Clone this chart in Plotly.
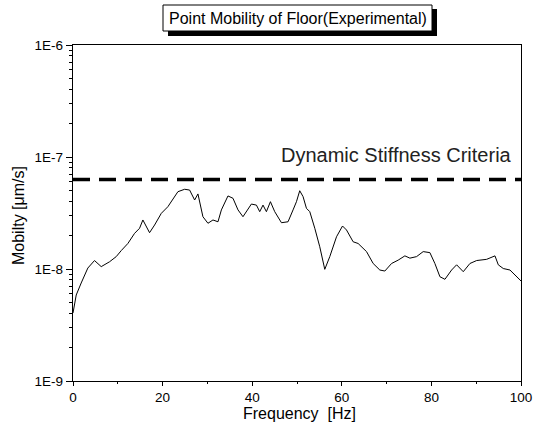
import plotly.graph_objects as go

freq = [0.0, 0.72, 1.83, 3.31, 4.80, 6.30, 8.16, 9.65, 10.77, 12.25, 13.74, 14.86, 15.60, 17.09,
        18.21, 19.71, 21.18, 23.42, 24.92, 26.03, 27.15, 27.89, 29.0, 30.12, 31.24, 32.36,
        33.12, 34.59, 35.71, 36.47, 36.83, 37.94, 39.06, 39.82, 40.94, 41.68, 42.41, 43.17,
        44.07, 45.03, 46.53, 48.0, 49.12, 49.88, 50.61, 51.35, 52.11, 52.85, 53.97, 55.08,
        56.20, 57.32, 58.82, 60.16, 61.05, 62.53, 63.64, 65.52, 67.0, 68.49, 69.61, 71.11,
        72.58, 74.08, 75.20, 76.69, 78.17, 79.66, 80.78, 81.90, 83.02, 84.51, 85.63, 87.11,
        88.60, 90.10, 92.33, 94.19, 94.93, 96.04, 97.54, 100.0]
mobility = [4.05e-9, 5.86e-9, 7.50e-9, 1.02e-8, 1.19e-8, 1.05e-8, 1.16e-8, 1.29e-8, 1.46e-8,
            1.69e-8, 2.08e-8, 2.31e-8, 2.74e-8, 2.11e-8, 2.47e-8, 3.14e-8, 3.60e-8, 4.90e-8,
            5.15e-8, 5.07e-8, 4.13e-8, 4.68e-8, 2.93e-8, 2.56e-8, 2.74e-8, 2.64e-8,
            3.37e-8, 4.49e-8, 4.28e-8, 3.72e-8, 3.37e-8, 2.93e-8, 3.37e-8, 3.80e-8, 3.72e-8,
            3.25e-8, 3.72e-8, 3.25e-8, 3.99e-8, 3.25e-8, 2.59e-8, 2.64e-8, 3.37e-8, 3.99e-8,
            5.00e-8, 4.43e-8, 3.48e-8, 3.25e-8, 2.31e-8, 1.58e-8, 9.93e-9, 1.29e-8, 1.94e-8,
            2.42e-8, 2.23e-8, 1.75e-8, 1.69e-8, 1.43e-8, 1.12e-8, 9.79e-9, 9.59e-9, 1.12e-8,
            1.20e-8, 1.31e-8, 1.25e-8, 1.29e-8, 1.43e-8, 1.40e-8, 1.12e-8, 8.53e-9, 8.09e-9,
            9.79e-9, 1.09e-8, 9.46e-9, 1.12e-8, 1.19e-8, 1.22e-8, 1.31e-8, 1.09e-8, 1.01e-8,
            9.79e-9, 7.82e-9]
criteria_freq = [0, 100]
criteria_value = [6.3e-8, 6.3e-8]

y_tickvals = [1e-9, 1e-8, 1e-7, 1e-6]
y_ticktext = ["1E-9", "1E-8", "1E-7", "1E-6"]
x_tickvals = [0, 20, 40, 60, 80, 100]

title_text = "Point Mobility of Floor(Experimental)"
criteria_label = "Dynamic Stiffness Criteria"
x_title = "Frequency  [Hz]"
y_title = "Mobilty [μm/s]"

W, H = 535, 433
PLOT_L, PLOT_R, PLOT_T, PLOT_B = 73, 521, 45, 381   # window pixels
L, R, T, B = PLOT_L, W - PLOT_R, PLOT_T, H - PLOT_B
pw, ph = PLOT_R - PLOT_L, PLOT_B - PLOT_T

def px(x):
    return (x - PLOT_L) / pw

def py(y):
    return (PLOT_B - y) / ph

font = "Liberation Sans, Arial, sans-serif"

fig = go.Figure()
fig.add_trace(go.Scatter(x=freq, y=mobility, mode="lines",
                         line=dict(color="black", width=1), showlegend=False))
fig.add_trace(go.Scatter(x=criteria_freq, y=criteria_value, mode="lines",
                         line=dict(color="black", width=3.5, dash="17px,9px"), showlegend=False))

minor_y = [k * 10.0 ** e for e in (-9, -8, -7) for k in range(2, 10)]

fig.update_xaxes(range=[0, 100], tickvals=x_tickvals, ticks="outside", ticklen=4,
                 tickwidth=1, tickcolor="black", showline=True, linecolor="black",
                 linewidth=1.3, mirror=True, showgrid=False, zeroline=False, automargin=False,
                 minor=dict(tickvals=[10, 30, 50, 70, 90], ticks="outside", ticklen=2,
                            tickcolor="black", showgrid=False),
                 tickfont=dict(family=font, size=13.5, color="black"))
fig.update_yaxes(type="log", range=[-9, -6], tickvals=y_tickvals, ticktext=y_ticktext,
                 ticks="outside", ticklen=6, tickwidth=1, tickcolor="black",
                 showline=True, linecolor="black", linewidth=1.3, mirror=True,
                 showgrid=False, zeroline=False, automargin=False,
                 minor=dict(tickvals=minor_y, ticks="outside", ticklen=3,
                            tickcolor="black", showgrid=False),
                 tickfont=dict(family=font, size=13.5, color="black"))

shapes = [
    dict(type="rect", xref="paper", yref="paper", x0=px(168), x1=px(437), y0=py(36), y1=py(9),
         fillcolor="black", line=dict(width=0), layer="above"),
    dict(type="rect", xref="paper", yref="paper", x0=px(163), x1=px(432), y0=py(31), y1=py(5),
         fillcolor="white", line=dict(color="black", width=1), layer="above"),
]
annotations = [
    dict(text=title_text, xref="paper", yref="paper", x=px(298), y=py(18), showarrow=False,
         xanchor="center", yanchor="middle", font=dict(family=font, size=16, color="black")),
    dict(text=criteria_label, xref="paper", yref="paper", x=px(514), y=py(155), showarrow=False,
         xanchor="right", yanchor="middle", font=dict(family=font, size=20, color="#222")),
    dict(text=x_title, xref="paper", yref="paper", x=px(299), y=py(413), showarrow=False,
         xanchor="center", yanchor="middle", font=dict(family=font, size=16, color="black")),
    dict(text=y_title, xref="paper", yref="paper", x=px(18), y=py(216), showarrow=False,
         textangle=-90, xanchor="center", yanchor="middle",
         font=dict(family=font, size=16, color="black")),
]

fig.update_layout(width=W, height=H, margin=dict(l=L, r=R, t=T, b=B),
                  paper_bgcolor="white", plot_bgcolor="white",
                  shapes=shapes, annotations=annotations, showlegend=False)

fig.write_html("out.html", config={"displayModeBar": False},
               post_script="document.body.style.margin='0px';document.body.style.overflow='hidden';")
